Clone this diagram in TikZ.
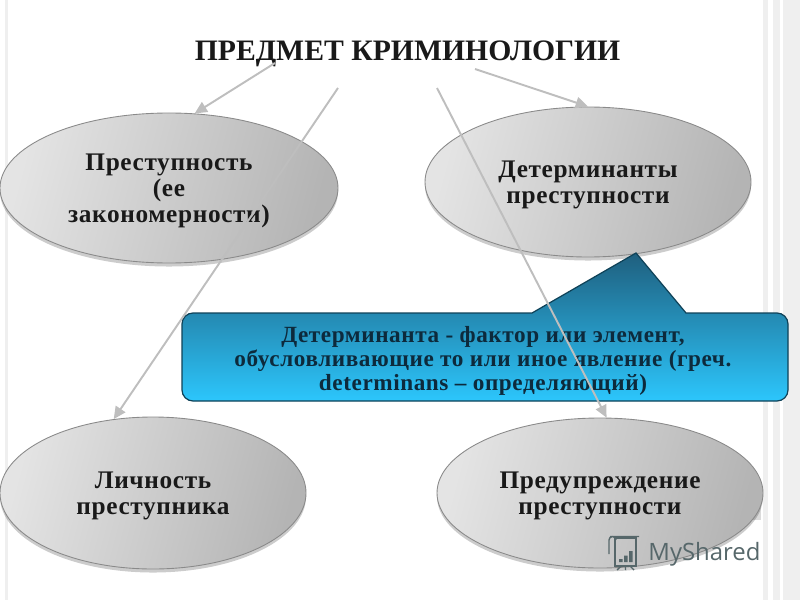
\documentclass[tikz,border=0pt]{standalone}
\usepackage{fontspec}
\setmainfont{Liberation Serif}
\setsansfont{Open Sans}
\newfontfamily\spacedfont[LetterSpace=2.5]{Liberation Serif}
\usetikzlibrary{arrows.meta,shapes.geometric,shadows}

\definecolor{ovalLight}{HTML}{E4E4E4}
\definecolor{ovalDark}{HTML}{B4B4B4}
\definecolor{ovalEdge}{HTML}{8A8A8A}
\definecolor{arrowGray}{HTML}{BEBEBE}
\definecolor{calloutTop}{HTML}{1F5F7E}
\definecolor{calloutBottom}{HTML}{2CC6FC}
\definecolor{calloutEdge}{HTML}{0F4258}
\definecolor{calloutText}{HTML}{0D2A3C}
\definecolor{stripeGray}{HTML}{EFEFEF}
\definecolor{markGray}{HTML}{56676A}

\tikzset{
    oval/.style={ellipse, draw=ovalEdge, line width=0.5pt, inner sep=0pt,
        left color=ovalLight, right color=ovalDark, shading angle=75,
        drop shadow={shadow xshift=0pt, shadow yshift=-2pt, fill=black, opacity=0.2}},
    ovaltext/.style={align=center, inner sep=0pt, yshift=-0.06cm, text=black!90,
        font=\spacedfont\fontsize{14.4}{14.9}\selectfont\bfseries},
    pointer/.style={-{Triangle[length=7pt,width=6.5pt]}, arrowGray, line width=1.1pt}
}

\begin{document}
\begin{tikzpicture}
    \useasboundingbox (0,0) rectangle (16,12);

    % Stripes along the edges of the slide
    \foreach \x/\w in {0.1/0.06, 15.26/0.1, 15.46/0.14, 15.66/0.34} {
        \fill[stripeGray] (\x,0) rectangle ++(\w,12);
    }

    % Title
    \node[font=\fontsize{16.9}{20}\selectfont\bfseries, text=black!90] (title) at (8.15,10.92) {ПРЕДМЕТ КРИМИНОЛОГИИ};

    % Patch of shadow next to the last oval
    \fill[black!14] (15.0,1.6) rectangle (15.22,2.0);

    % The four ovals
    \node[oval, minimum width=6.76cm, minimum height=3cm] (crime) at (3.38,8.24) {};
    \node[oval, minimum width=6.52cm, minimum height=3cm] (determ) at (11.76,8.36) {};
    \node[oval, minimum width=6.12cm, minimum height=3.04cm] (person) at (3.06,2.14) {};
    \node[oval, minimum width=6.52cm, minimum height=3cm] (prevent) at (12.0,2.14) {};

    % Their labels
    \node[ovaltext] (crimeText) at (crime) {Преступность\\(ее\\закономерности)};
    \node[ovaltext] (determText) at (determ) {Детерминанты\\преступности};
    \node[ovaltext] (personText) at (person) {Личность\\преступника};
    \node[ovaltext] (preventText) at (prevent) {Предупреждение\\преступности};

    % Callout with its pointer up to the second oval
    \draw[calloutEdge, line width=0.7pt, top color=calloutTop, bottom color=calloutBottom, rounded corners=0.22cm]
        (3.64,3.98) -- (3.64,5.74) [sharp corners] -- (10.64,5.74) -- (12.72,6.94) -- (13.72,5.74)
        [rounded corners=0.22cm] -- (15.76,5.74) -- (15.76,3.98) -- cycle;
    \node[align=center, text=calloutText, font=\spacedfont\fontsize{13.2}{13.6}\selectfont\bfseries] (note) at (9.66,4.78)
        {Детерминанта - фактор или элемент,\\обусловливающие то или иное явление (греч.\\determinans – определяющий)};

    % Free ends of the arrows below the title
    \coordinate (startA) at (5.5,10.74);
    \coordinate (startB) at (6.76,10.24);
    \coordinate (startC) at (9.5,10.62);
    \coordinate (startD) at (8.74,10.24);

    \draw[pointer] (startA) -- (crime.71);
    \draw[pointer] (startB) -- (person.118);
    \draw[pointer] (startC) -- (determ.north);
    \draw[pointer] (startD) -- (prevent.85);

    % Watermark
    \node[font=\fontsize{13.6}{16}\sffamily, text=markGray, inner sep=0pt] (mark) at (14.09,0.92) {MyShared};
    \draw[markGray, line width=0.8pt] (12.3,1.24) rectangle (12.72,0.68);
    \draw[markGray, line width=0.8pt] (12.18,1.2) arc (180:0:0.07) (12.18,1.2) -- (12.18,0.92) (12.2,1.27) -- (12.78,1.27);
    \fill[markGray] (12.38,0.76) rectangle ++(0.07,0.06) (12.48,0.76) rectangle ++(0.07,0.13) (12.58,0.76) rectangle ++(0.07,0.22);
    \draw[markGray, line width=0.8pt] (12.42,0.68) -- (12.34,0.6) (12.6,0.68) -- (12.68,0.6) (12.51,0.68) -- (12.51,0.6);
\end{tikzpicture}
\end{document}
